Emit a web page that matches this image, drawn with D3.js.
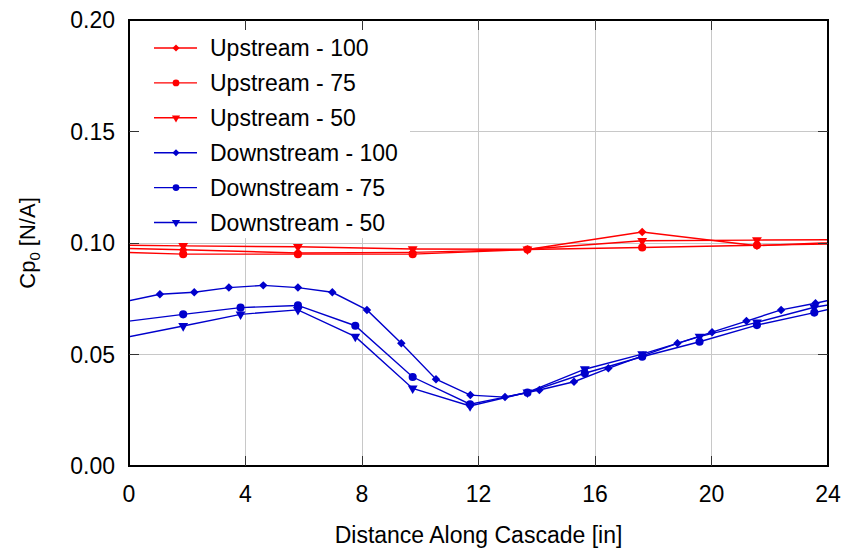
<!DOCTYPE html>
<html>
<head>
<meta charset="utf-8">
<script src="https://cdn.jsdelivr.net/npm/d3@7"></script>
<style>
  html, body { margin: 0; padding: 0; background: #fff; }
  svg { display: block; font-family: "Liberation Sans", Arial, sans-serif; }
</style>
</head>
<body>
<svg id="chart" width="847" height="548"></svg>
<script>
// Measurement stations along the cascade [in]
const xDense = [-0.12, 1.06, 2.24, 3.43, 4.61, 5.80, 6.98, 8.17, 9.35, 10.54, 11.72, 12.91,
                14.09, 15.28, 16.46, 17.65, 18.83, 20.02, 21.20, 22.39, 23.57, 24.76];
const xMedium = [-0.11, 1.86, 3.83, 5.80, 7.77, 9.74, 11.71, 13.68, 15.65, 17.62, 19.59, 21.56, 23.53, 25.50];
const xSparse = [-2.08, 1.86, 5.80, 9.74, 13.68, 17.62, 21.56, 25.50];

// Total pressure loss coefficient Cp0
const upstream100 = [0.0982, 0.0970, 0.0955, 0.0958, 0.0971, 0.1049, 0.0988, 0.1009];
const upstream75  = [0.0965, 0.0950, 0.0950, 0.0950, 0.0971, 0.0980, 0.0990, 0.0998];
const upstream50  = [0.0993, 0.0987, 0.0983, 0.0973, 0.0972, 0.1010, 0.1013, 0.1016];

const downstream100 = [0.0738, 0.0770, 0.0779, 0.0800, 0.0810, 0.0800, 0.0779, 0.0700, 0.0550, 0.0389,
                       0.0318, 0.0309, 0.0341, 0.0378, 0.0438, 0.0495, 0.0550, 0.0600, 0.0650, 0.0700,
                       0.0730, 0.0763];
const downstream75  = [0.0648, 0.0680, 0.0710, 0.0720, 0.0629, 0.0399, 0.0277, 0.0329, 0.0416, 0.0490,
                       0.0557, 0.0632, 0.0688, 0.0745];
const downstream50  = [0.0577, 0.0628, 0.0680, 0.0700, 0.0580, 0.0348, 0.0269, 0.0330, 0.0434, 0.0502,
                       0.0580, 0.0644, 0.0712, 0.0753];

const xTicks = [0, 4, 8, 12, 16, 20, 24];
const yTicks = [0, 0.05, 0.10, 0.15, 0.20];

const RED = "#ff0000";
const BLUE = "#0000cc";

const series = [
  { name: "Upstream - 100",   x: xSparse, y: upstream100,   color: RED,  marker: "diamond" },
  { name: "Upstream - 75",    x: xSparse, y: upstream75,    color: RED,  marker: "circle" },
  { name: "Upstream - 50",    x: xSparse, y: upstream50,    color: RED,  marker: "triangle" },
  { name: "Downstream - 100", x: xDense,  y: downstream100, color: BLUE, marker: "diamond" },
  { name: "Downstream - 75",  x: xMedium, y: downstream75,  color: BLUE, marker: "circle" },
  { name: "Downstream - 50",  x: xMedium, y: downstream50,  color: BLUE, marker: "triangle" }
];

const W = 847, H = 548;
const margin = { left: 129, right: 19, top: 20, bottom: 82 };
const pw = W - margin.left - margin.right;
const ph = H - margin.top - margin.bottom;
const FONT = 23;

const svg = d3.select("#chart");
const g = svg.append("g").attr("transform", `translate(${margin.left},${margin.top})`);

const x = d3.scaleLinear().domain([0, 24]).range([0, pw]);
const y = d3.scaleLinear().domain([0, 0.20]).range([ph, 0]);

svg.append("defs").append("clipPath").attr("id", "plotClip")
  .append("rect").attr("x", 0).attr("y", 0).attr("width", pw).attr("height", ph);

// Grid
g.append("g").selectAll("line").data(xTicks.slice(1, -1)).join("line")
  .attr("x1", d => x(d)).attr("x2", d => x(d)).attr("y1", 0).attr("y2", ph)
  .attr("stroke", "#c8c8c8").attr("stroke-width", 1).attr("shape-rendering", "crispEdges");
g.append("g").selectAll("line").data(yTicks.slice(1, -1)).join("line")
  .attr("x1", 0).attr("x2", pw).attr("y1", d => y(d)).attr("y2", d => y(d))
  .attr("stroke", "#c8c8c8").attr("stroke-width", 1).attr("shape-rendering", "crispEdges");

// Marker shapes: square diamond, filled circle, downward triangle
function symbolPath(kind, scale) {
  const s = scale || 1;
  if (kind === "diamond") return d3.symbol(d3.symbolSquare, 36 * s)();
  if (kind === "circle") return d3.symbol(d3.symbolCircle, 52 * s)();
  return d3.symbol(d3.symbolTriangle, 42 * s)();
}
function symbolRotate(kind) {
  if (kind === "triangle") return " rotate(180)";
  if (kind === "diamond") return " rotate(45)";
  return "";
}

const plot = g.append("g").attr("clip-path", "url(#plotClip)");
const line = d3.line().x(d => x(d[0])).y(d => y(d[1]));

series.forEach(s => {
  const pts = s.x.map((xv, i) => [xv, s.y[i]]);
  plot.append("path").datum(pts)
    .attr("d", line).attr("fill", "none")
    .attr("stroke", s.color).attr("stroke-width", 1.4);
  plot.append("g").selectAll("path")
    .data(pts.filter(p => p[0] >= 0 && p[0] <= 24)).join("path")
    .attr("d", symbolPath(s.marker))
    .attr("transform", d => `translate(${x(d[0])},${y(d[1])})` + symbolRotate(s.marker))
    .attr("fill", s.color);
});

// Legend
const legend = g.append("g").attr("transform", "translate(1,10)");
legend.append("rect").attr("x", 0).attr("y", 0).attr("width", 280).attr("height", 208).attr("fill", "#fff");
series.forEach((s, i) => {
  const ly = 18 + i * 34.9;
  const row = legend.append("g").attr("transform", `translate(0,${ly})`);
  row.append("line").attr("x1", 24).attr("x2", 67).attr("y1", 0).attr("y2", 0)
    .attr("stroke", s.color).attr("stroke-width", 1.4);
  row.append("path").attr("d", symbolPath(s.marker, 0.7))
    .attr("transform", "translate(46,0)" + symbolRotate(s.marker)).attr("fill", s.color);
  row.append("text").attr("x", 80).attr("y", 0).attr("dy", "0.35em")
    .attr("font-size", FONT).attr("fill", "#000").text(s.name);
});

// Frame and inward ticks
g.append("rect").attr("x", 0).attr("y", 0).attr("width", pw).attr("height", ph)
  .attr("fill", "none").attr("stroke", "#000").attr("stroke-width", 1.2).attr("shape-rendering", "crispEdges");
const tickLen = 10;
const ticks = g.append("g").attr("stroke", "#333").attr("stroke-width", 1).attr("shape-rendering", "crispEdges");
xTicks.slice(1, -1).forEach(t => {
  ticks.append("line").attr("x1", x(t)).attr("x2", x(t)).attr("y1", ph).attr("y2", ph - tickLen);
  ticks.append("line").attr("x1", x(t)).attr("x2", x(t)).attr("y1", 0).attr("y2", tickLen);
});
yTicks.slice(1, -1).forEach(t => {
  ticks.append("line").attr("x1", 0).attr("x2", tickLen).attr("y1", y(t)).attr("y2", y(t));
  ticks.append("line").attr("x1", pw).attr("x2", pw - tickLen).attr("y1", y(t)).attr("y2", y(t));
});

// Tick labels
g.append("g").selectAll("text").data(xTicks).join("text")
  .attr("x", d => x(d)).attr("y", ph + 28).attr("dy", "0.35em")
  .attr("text-anchor", "middle").attr("font-size", FONT).attr("fill", "#000")
  .text(d => d3.format("d")(d));
g.append("g").selectAll("text").data(yTicks).join("text")
  .attr("x", -14).attr("y", d => y(d)).attr("dy", "0.35em")
  .attr("text-anchor", "end").attr("font-size", FONT).attr("fill", "#000")
  .text(d => d3.format(".2f")(d));

// Axis titles
svg.append("text").attr("x", margin.left + pw / 2).attr("y", 535).attr("dy", "0.35em")
  .attr("text-anchor", "middle").attr("font-size", FONT).attr("fill", "#000")
  .text("Distance Along Cascade [in]");
const yt = svg.append("text")
  .attr("transform", `translate(35,${margin.top + ph / 2}) rotate(-90)`)
  .attr("text-anchor", "middle").attr("font-size", 22).attr("fill", "#000");
yt.append("tspan").text("Cp");
yt.append("tspan").attr("font-size", 15).attr("dy", 5).text("0");
yt.append("tspan").attr("dy", -5).text(" [N/A]");
</script>
</body>
</html>
